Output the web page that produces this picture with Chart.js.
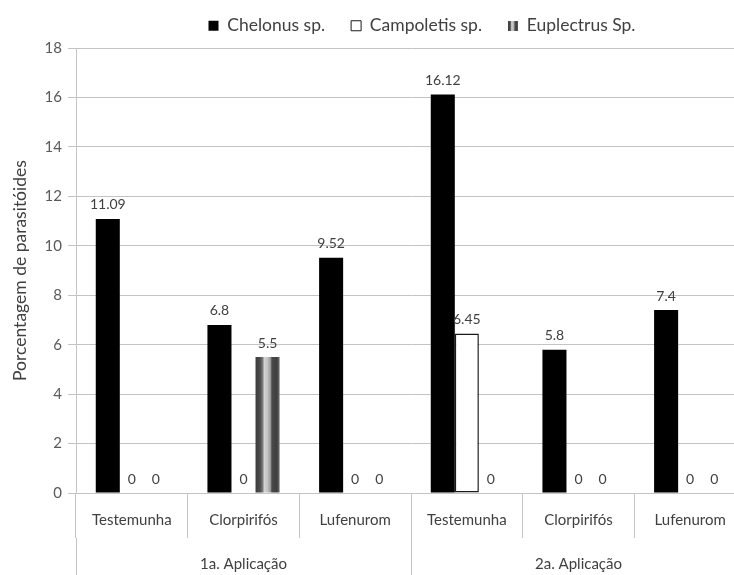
<!DOCTYPE html>
<html>
<head>
<meta charset="utf-8">
<script src="https://cdn.jsdelivr.net/npm/chart.js@4.4.0/dist/chart.umd.min.js"></script>
<style>
  html, body { margin: 0; padding: 0; background: #ffffff; overflow: hidden; }
  #wrap { position: relative; width: 746px; height: 575px; }
</style>
</head>
<body>
<div id="wrap"><canvas id="chart"></canvas></div>
<script>
// Treatments (inner axis level) and application rounds (outer axis level)
const treatments = ['Testemunha', 'Clorpirifós', 'Lufenurom', 'Testemunha', 'Clorpirifós', 'Lufenurom'];
const applications = ['1a. Aplicação', '2a. Aplicação'];

// Parasitoid percentages per species
const seriesNames = ['Chelonus sp.', 'Campoletis sp.', 'Euplectrus Sp.'];
const chelonus = [11.09, 6.8, 9.52, 16.12, 5.8, 7.4];
const campoletis = [0, 0, 0, 6.45, 0, 0];
const euplectrus = [0, 5.5, 0, 0, 0, 0];

// Value axis
const yMin = 0;
const yMax = 18;
const yStep = 2;
const yTitle = 'Porcentagem de parasitóides';

const FONT = 'Lato, "Open Sans", sans-serif';
const TEXT = '#404040';
const LINE = '#c4c4c4';

// Vertical striped shading used for the Euplectrus bars
function stripeStops(g) {
  g.addColorStop(0.00, '#3c3c3c');
  g.addColorStop(0.18, '#4a4a4a');
  g.addColorStop(0.30, '#7a7a7a');
  g.addColorStop(0.36, '#d4d4d4');
  g.addColorStop(0.50, '#c2c2c2');
  g.addColorStop(0.62, '#9a9a9a');
  g.addColorStop(0.68, '#4a4a4a');
  g.addColorStop(0.88, '#3e3e3e');
  g.addColorStop(1.00, '#6a6a6a');
  return g;
}

// Small legend swatch with the same stripes
const stripeIcon = (() => {
  const c = document.createElement('canvas');
  c.width = 10; c.height = 10;
  const x = c.getContext('2d');
  x.fillStyle = stripeStops(x.createLinearGradient(0, 0, 10, 0));
  x.fillRect(0, 0, 10, 10);
  return c;
})();

const stripedBars = {
  id: 'stripedBars',
  beforeDatasetDraw(chart, args) {
    if (args.index !== 2) return;
    const ctx = chart.ctx;
    args.meta.data.forEach(el => {
      const w = el.width;
      const g = stripeStops(ctx.createLinearGradient(el.x - w / 2, 0, el.x + w / 2, 0));
      el.options = Object.assign({}, el.options, { backgroundColor: g });
    });
  }
};

// Nudge the legend row a little to the right of the plot centre
const legendShift = {
  id: 'legendShift',
  afterLayout(chart) {
    const lg = chart.legend;
    if (!lg) return;
    lg.left += 11;
    lg.right += 11;
  }
};

// Value printed above every bar
const valueLabels = {
  id: 'valueLabels',
  afterDatasetsDraw(chart) {
    const ctx = chart.ctx;
    ctx.save();
    ctx.font = '14px ' + FONT;
    ctx.fillStyle = TEXT;
    ctx.textAlign = 'center';
    ctx.textBaseline = 'bottom';
    chart.data.datasets.forEach((ds, di) => {
      const meta = chart.getDatasetMeta(di);
      meta.data.forEach((el, i) => {
        ctx.fillText(String(ds.data[i]), el.x, el.y - 7);
      });
    });
    ctx.restore();
  }
};

new Chart(document.getElementById('chart'), {
  type: 'bar',
  data: {
    labels: treatments,
    datasets: [
      { label: seriesNames[0], data: chelonus, backgroundColor: '#000000', borderWidth: 0 },
      { label: seriesNames[1], data: campoletis, backgroundColor: '#ffffff', borderColor: '#1a1a1a', borderWidth: 1.5, borderSkipped: false },
      { label: seriesNames[2], data: euplectrus, backgroundColor: '#888888', borderWidth: 0 }
    ]
  },
  options: {
    responsive: true,
    maintainAspectRatio: false,
    animation: false,
    devicePixelRatio: 1,
    datasets: { bar: { barPercentage: 1.0, categoryPercentage: 0.646 } },
    layout: { padding: { left: 0, right: 0, top: -9, bottom: 0 } },
    plugins: {
      tooltip: { enabled: false },
      legend: {
        position: 'top',
        fullSize: false,
        labels: {
          color: TEXT,
          font: { family: FONT, size: 17.5 },
          usePointStyle: true,
          boxWidth: 10,
          boxHeight: 10,
          padding: 26,
          generateLabels(chart) {
            const items = Chart.defaults.plugins.legend.labels.generateLabels(chart);
            items[0].pointStyle = 'rect';
            items[0].fillStyle = '#000000';
            items[0].lineWidth = 0;
            items[1].pointStyle = 'rect';
            items[1].fillStyle = '#ffffff';
            items[1].strokeStyle = '#1a1a1a';
            items[1].lineWidth = 1;
            items[2].pointStyle = stripeIcon;
            return items;
          }
        }
      },
      // thin empty band between the legend and the plot
      subtitle: { display: true, text: '', weight: 500, fullSize: false, padding: 0, font: { size: 3 } }
    },
    scales: {
      x: {
        offset: true,
        weight: 0,
        grid: { offset: true, drawOnChartArea: false, drawTicks: true, tickLength: 45, color: LINE },
        border: { display: true, color: LINE },
        ticks: { color: TEXT, font: { family: FONT, size: 15 }, padding: -27, maxRotation: 0, autoSkip: false },
        afterFit(scale) { scale.height = 45; }
      },
      x2: {
        type: 'category',
        labels: applications,
        position: 'bottom',
        offset: true,
        weight: 1,
        grid: { offset: true, drawOnChartArea: false, drawTicks: true, tickLength: 37, color: LINE },
        border: { display: false },
        ticks: { color: TEXT, font: { family: FONT, size: 15 }, padding: -20, maxRotation: 0 },
        afterFit(scale) { scale.height = 37; }
      },
      y: {
        min: yMin,
        max: yMax,
        ticks: { stepSize: yStep, color: '#595959', font: { family: FONT, size: 15 }, padding: 6 },
        grid: { color: LINE, tickLength: 8, tickColor: LINE },
        border: { color: LINE },
        title: { display: true, text: yTitle, color: TEXT, font: { family: FONT, size: 17.5 }, padding: { top: 10, bottom: 0 } },
        afterFit(scale) { scale.width = 76; }
      }
    }
  },
  plugins: [stripedBars, legendShift, valueLabels]
});
</script>
</body>
</html>
